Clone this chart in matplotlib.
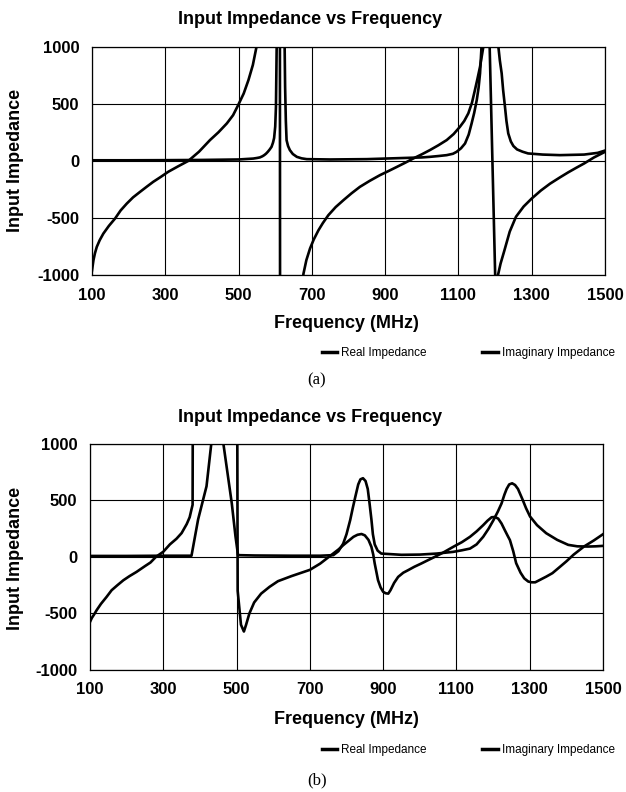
import matplotlib
matplotlib.use("Agg")
import matplotlib.pyplot as plt
from matplotlib.lines import Line2D

plt.rcParams['font.family'] = ['Liberation Sans', 'DejaVu Sans']
plt.rcParams['axes.unicode_minus'] = False

# ---------------- data: chart (a) ----------------
a_real_f = [100, 200, 300, 400, 500, 540, 550, 558, 565, 570, 575, 580, 585, 590, 594, 597, 600, 602, 604,
            608, 615, 622, 625, 627, 629, 631, 635, 640, 648, 659, 672, 686, 750, 850, 950, 1000, 1022,
            1045, 1068, 1085, 1095, 1107, 1118, 1128, 1136, 1143, 1150, 1155, 1159, 1163, 1172, 1190, 1204,
            1209, 1213, 1218, 1222, 1227, 1231, 1236, 1243, 1250, 1260, 1275, 1290, 1330, 1377, 1443, 1480, 1500]
a_real_v = [5, 5, 6, 8, 12, 20, 25, 30, 40, 50, 63, 80, 100, 123, 160, 200, 300, 474, 1000,
            2500, 5000, 2500, 1200, 649, 350, 181, 130, 94, 60, 35, 22, 15, 12, 15, 25, 30, 35,
            42, 50, 62, 79, 110, 152, 230, 328, 420, 532, 640, 767, 1000, 1800, 3000, 1500,
            1000, 880, 767, 620, 474, 350, 240, 170, 130, 100, 80, 65, 55, 50, 55, 70, 90]

a_imag_f = [100, 104, 108, 113, 121, 131, 146, 163, 178, 195, 212, 231, 250, 267, 288, 308, 335, 363, 392,
            422, 445, 468, 485, 499, 514, 527, 539, 549, 570, 600, 612, 614, 640, 665,
            677, 685, 695, 705, 718, 730, 745, 765, 786, 808, 831, 858, 886, 910, 932, 955, 977, 1000,
            1022, 1045, 1068, 1087, 1104, 1116, 1127, 1137, 1145, 1152, 1159, 1168, 1183, 1201,
            1208, 1215, 1225, 1240, 1257, 1278, 1300, 1325, 1350, 1377, 1400, 1422, 1443, 1470, 1500]
a_imag_v = [-960, -870, -810, -754, -695, -637, -570, -505, -435, -374, -320, -272, -225, -184, -140, -96, -48, 0, 80,
            182, 250, 328, 400, 489, 590, 708, 840, 1000, 1500, 3000, 6000, -6000, -3000, -1500,
            -990, -870, -768, -690, -608, -545, -476, -405, -345, -285, -228, -175, -125, -88, -53, -16, 21, 57,
            94, 136, 182, 235, 298, 350, 416, 510, 620, 720, 825, 1000, 1300, -1100,
            -1000, -900, -790, -620, -490, -400, -330, -260, -200, -145, -100, -60, -23, 30, 79]

# ---------------- data: chart (b) ----------------
b_real_f = [100, 200, 300, 377, 395, 418, 431, 440, 452, 464, 487, 497, 504, 550, 650, 728, 764, 778, 791,
            800, 810, 817, 824, 832, 838, 845, 852, 858, 863, 868, 872, 877, 885, 895, 950, 1000, 1046,
            1091, 1115, 1137, 1155, 1173, 1188, 1201, 1213, 1223, 1231, 1237, 1244, 1252, 1260, 1268, 1280,
            1290, 1301, 1320, 1345, 1375, 1405, 1430, 1459, 1480, 1500]
b_real_v = [8, 8, 10, 10, 330, 624, 1000, 1400, 1500, 1000, 471, 182, 15, 12, 10, 10, 15, 50, 117,
            200, 324, 430, 530, 640, 685, 695, 670, 600, 470, 330, 200, 110, 55, 29, 18, 20, 29,
            44, 58, 73, 110, 177, 250, 324, 400, 471, 550, 600, 640, 650, 635, 600, 510,
            430, 356, 280, 209, 150, 106, 93, 91, 93, 97]

b_imag_f = [100, 105, 112, 118, 130, 145, 159, 175, 191, 208, 227, 250, 265, 280, 300, 318, 336, 350, 364,
            372, 377, 380, 383, 499, 503, 512, 520, 526, 535, 548, 567, 590, 613, 650, 700, 728, 750, 764,
            778, 791, 805, 819, 830, 841, 850, 860, 868, 873, 877, 882, 886, 893, 900, 907, 914, 920, 930,
            941, 955, 968, 985, 1004, 1022, 1041, 1065, 1091, 1115, 1137, 1155, 1173, 1185, 1196, 1205, 1214,
            1223, 1232, 1240, 1246, 1255, 1263, 1275, 1285, 1296, 1305, 1315, 1330, 1345, 1362, 1380, 1400,
            1420, 1448, 1475, 1500]
b_imag_v = [-575, -540, -505, -472, -415, -355, -295, -250, -207, -170, -133, -82, -50, 0, 45, 110, 160, 210, 290,
            350, 420, 460, 5000, 5000, -300, -600, -660, -600, -500, -403, -325, -265, -215, -170, -115, -60, -5, 30,
            65, 103, 140, 177, 195, 202, 190, 150, 88, 20, -59, -140, -206, -270, -309, -322, -325, -295, -230,
            -177, -140, -118, -88, -59, -30, 0, 40, 88, 130, 177, 225, 280, 320, 350, 352, 338,
            295, 236, 185, 148, 50, -56, -140, -190, -218, -225, -225, -200, -175, -144, -95, -40,
            20, 91, 145, 200]

x_ticks = [100, 300, 500, 700, 900, 1100, 1300, 1500]
y_ticks = [-1000, -500, 0, 500, 1000]
title = "Input Impedance vs Frequency"
xlabel = "Frequency (MHz)"
ylabel = "Input Impedance"
series_names = ["Real Impedance", "Imaginary Impedance"]

W, H = 626, 792
fig = plt.figure(figsize=(W / 100, H / 100), dpi=100)


def px_rect(left, top, right, bottom):
    return [left / W, 1 - bottom / H, (right - left) / W, (bottom - top) / H]


def make_panel(rect, rf, rv, imf, imv, title_y, ylab_y, xlab_y, leg_y, cap_y, cap):
    ax = fig.add_axes(rect)
    ax.plot(rf, rv, color='black', lw=1.9, solid_joinstyle='round', zorder=3)
    ax.plot(imf, imv, color='black', lw=1.9, solid_joinstyle='round', zorder=3)
    ax.set_xlim(100, 1500)
    ax.set_ylim(-1000, 1000)
    ax.set_xticks(x_ticks)
    ax.set_yticks(y_ticks)
    ax.grid(True, color='black', lw=0.8, zorder=1)
    ax.set_axisbelow(True)
    for s in ax.spines.values():
        s.set_color('black')
        s.set_linewidth(0.9)
    ax.tick_params(length=0, labelsize=12, pad=9)
    for lab in ax.get_xticklabels() + ax.get_yticklabels():
        lab.set_fontweight('bold')
    fig.text(310 / W, 1 - title_y / H, title, ha='center', va='center', fontsize=13, fontweight='bold')
    fig.text(16 / W, 1 - ylab_y / H, ylabel, ha='center', va='center', rotation=90,
             fontsize=13, fontweight='bold')
    fig.text(346 / W, 1 - xlab_y / H, xlabel, ha='center', va='center', fontsize=13, fontweight='bold')
    handles = [Line2D([], [], color='black', lw=2.5), Line2D([], [], color='black', lw=2.5)]
    fig.legend(handles, series_names, loc='center left', bbox_to_anchor=(322 / W, 1 - leg_y / H),
               ncol=2, frameon=False, fontsize=8.5, handlelength=1.3, handletextpad=0.35,
               columnspacing=4.7, borderpad=0, borderaxespad=0)
    fig.text(317 / W, 1 - cap_y / H, cap, ha='center', va='center', fontsize=12,
             family=['Liberation Serif', 'DejaVu Serif'])
    return ax


make_panel(px_rect(92, 46.7, 605, 275), a_real_f, a_real_v, a_imag_f, a_imag_v,
           20, 160, 323, 353, 380, "(a)")
make_panel(px_rect(90, 443.7, 603, 670), b_real_f, b_real_v, b_imag_f, b_imag_v,
           418, 558, 720, 750, 780, "(b)")

fig.savefig("out.png", dpi=100)
